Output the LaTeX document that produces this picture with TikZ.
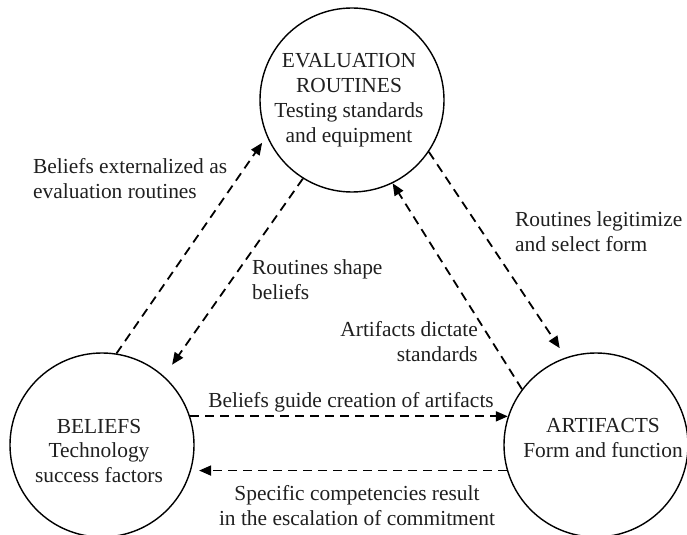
\documentclass[tikz,border=0pt]{standalone}
\usepackage{fontspec}
\setmainfont{Liberation Serif}
\usetikzlibrary{arrows.meta}
\begin{document}
\begin{tikzpicture}[x=1bp,y=-1bp,
  every node/.style={font=\fontsize{21.5}{25}\selectfont, text=black!88},
  stage/.style={draw, circle, line width=1.4bp, minimum size=184bp, inner sep=0pt},
  inside/.style={inner sep=0pt, align=center},
  flow/.style={line width=1.8bp, dash pattern=on 9bp off 6bp, -{Triangle[length=12bp,width=10bp]}},
  note/.style={inner sep=0pt}
]
\useasboundingbox (0,0) rectangle (687,535);

% the three stages
\node[stage] (T) at (352,100) {};
\node[stage] (L) at (102,445) {};
\node[stage] (R) at (596,445) {};
\node[inside] (Tt) at ([shift={(-3,0)}]T.center) {EVALUATION\\ROUTINES\\Testing standards\\and equipment};
\node[inside] (Lt) at ([shift={(-3,6)}]L.center) {BELIEFS\\Technology\\success factors};
\node[inside] (Rt) at ([shift={(7,-7)}]R.center) {ARTIFACTS\\Form and function};

% influences between the stages
\draw[flow, shorten >=8bp] (L.81) -- (T.203);
\draw[flow, shorten >=14bp] (T.238) -- (L.48);
\draw[flow, shorten >=11bp] (T.326) -- (R.109);
\draw[flow] (R.143) -- (T.296);
\draw[flow] (L.18) -- (R.162);
\draw[flow, shorten >=8bp] (R.196) -- (L.344);

% labels of the influences
\node[note, anchor=west, align=left] (n1) at (33,179) {Beliefs externalized as\\evaluation routines};
\node[note, anchor=west, align=left] (n2) at (252,280) {Routines shape\\beliefs};
\node[note, anchor=west, align=left] (n3) at (515,232) {Routines legitimize\\and select form};
\node[note, anchor=east, align=right] (n4) at (478,342) {Artifacts dictate\\standards};
\node[note] (n5) at (351,402) {Beliefs guide creation of artifacts};
\node[note, align=center] (n6) at (357,506) {Specific competencies result\\in the escalation of commitment};
\end{tikzpicture}
\end{document}
